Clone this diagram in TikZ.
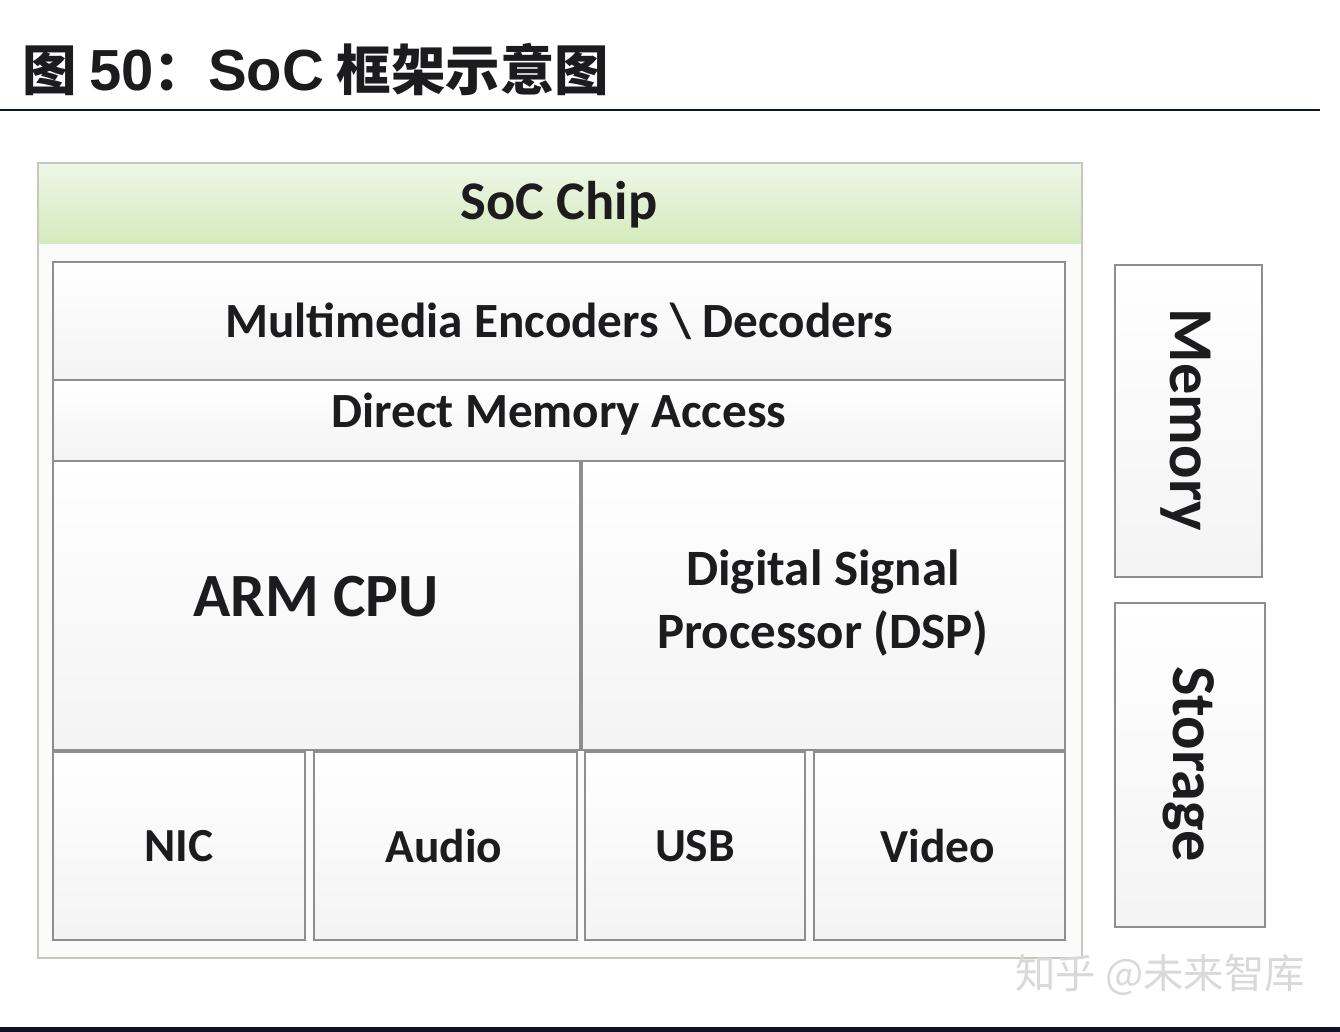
\documentclass[tikz,border=0pt]{standalone}
\usepackage{fontspec}
\setmainfont{Carlito}
\newfontfamily\cjk{Noto Sans CJK SC}
\newfontfamily\arialb{Liberation Sans}
\definecolor{boxline}{HTML}{8E8E8E}
\definecolor{chipline}{HTML}{C4C9BE}
\definecolor{txt}{HTML}{1C1C1E}
\definecolor{greentop}{HTML}{EEF6E6}
\definecolor{greenbot}{HTML}{D4EBBD}
\definecolor{rulecol}{HTML}{0E1428}

\tikzset{
  blk/.style={draw=boxline, line width=1.1pt, top color=white, bottom color=gray!9},
  lbl/.style={font=\bfseries\fontsize{28}{34}\selectfont, text=txt, align=center, inner sep=0pt},
  biglbl/.style={lbl, font=\bfseries\fontsize{35.5}{40}\selectfont},
}

\begin{document}
\begin{tikzpicture}[x=0.02cm, y=-0.02cm]
    \useasboundingbox (0,0) rectangle (1340,1032);
    \fill[white] (0,0) rectangle (1340,1032);

    % Title and rule below it
    \node[anchor=base west, inner sep=0pt, text=txt] (title) at (22,90)
        {\cjk\bfseries\fontsize{31}{36}\selectfont 图 {\arialb\fontsize{33}{36}\selectfont 50}：{\arialb\fontsize{33}{36}\selectfont SoC} 框架示意图};
    \draw[rulecol, line width=1.7pt] (0,110) -- (1320,110);
    \fill[rulecol] (0,1027) rectangle (1340,1032);

    % SoC chip frame with green header
    \draw[chipline, line width=1.2pt, fill=gray!3] (38,163) rectangle (1082,958);
    \shade[top color=greentop, bottom color=greenbot] (39.5,164.5) rectangle (1080.5,243);
    \node[lbl, font=\bfseries\fontsize{31}{36}\selectfont] (soc) at (559,205) {SoC Chip};

    % Multimedia and DMA bars
    \draw[blk] (53,262) rectangle (1065,380);
    \node[lbl] (mmedia) at (559,321) {Multimedia Encoders \textbackslash{} Decoders};
    \draw[blk] (53,380) rectangle (1065,461);
    \node[lbl] (dma) at (559,414) {Direct Memory Access};

    % CPU and DSP
    \draw[blk] (53,461) rectangle (580,750);
    \node[biglbl, font=\bfseries\fontsize{35}{40}\selectfont] (cpu) at (316,597) {ARM CPU};
    \draw[blk] (582,461) rectangle (1065,750);
    \node[lbl, font=\bfseries\fontsize{29}{36}\selectfont] (dsp) at (823,603) {Digital Signal\\Processor (DSP)};

    % Peripherals row
    \draw[blk] (53,752) rectangle (305,940);
    \node[lbl, font=\bfseries\fontsize{27}{32}\selectfont] (nic) at (179,846) {NIC};
    \draw[blk] (314,752) rectangle (577,940);
    \node[lbl, font=\bfseries\fontsize{27}{32}\selectfont] (audio) at (444,846) {Audio};
    \draw[blk] (585,752) rectangle (805,940);
    \node[lbl, font=\bfseries\fontsize{27}{32}\selectfont] (usb) at (695,846) {USB};
    \draw[blk] (814,752) rectangle (1065,940);
    \node[lbl, font=\bfseries\fontsize{27}{32}\selectfont] (video) at (938,846) {Video};

    % Memory and Storage beside the chip
    \draw[blk] (1115,265) rectangle (1262,577);
    \node[biglbl, rotate=-90] (mem) at (1186,420) {Memory};
    \draw[blk] (1115,603) rectangle (1265,927);
    \node[biglbl, rotate=-90] (stor) at (1189,764) {Storage};

    % Watermark
    \node[anchor=west, inner sep=0pt, text=gray!30] (wm) at (1015,975)
        {\cjk\fontsize{23}{28}\selectfont 知乎 @未来智库};
\end{tikzpicture}
\end{document}
